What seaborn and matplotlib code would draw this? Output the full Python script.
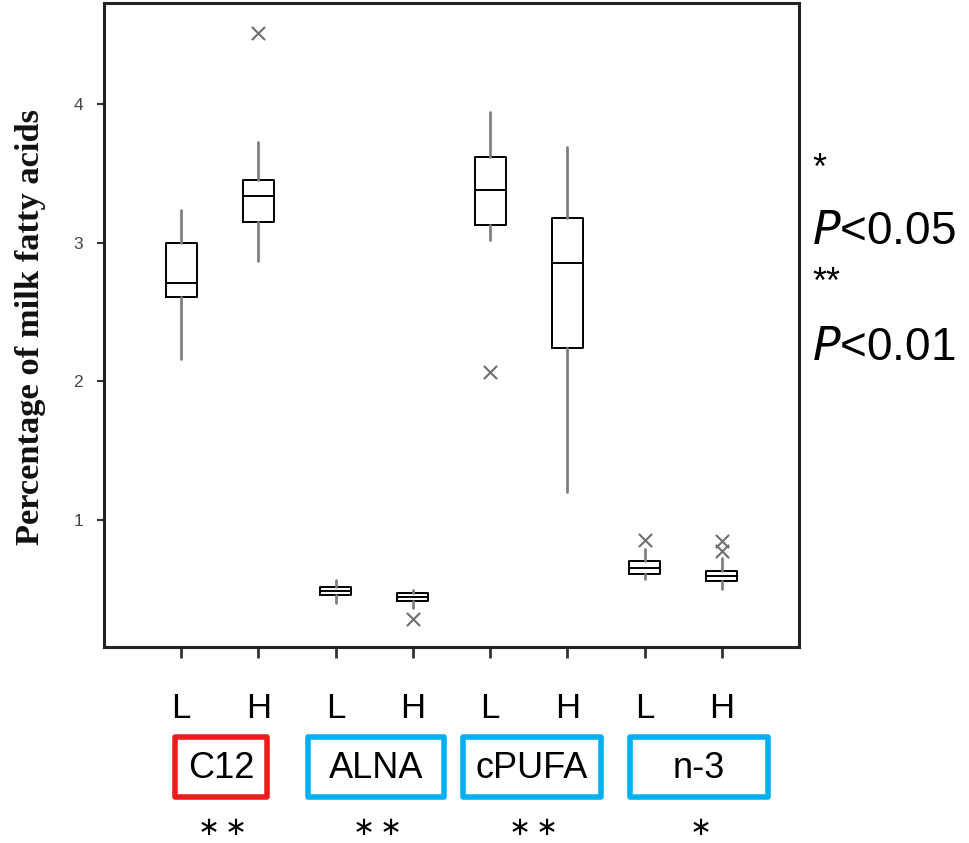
import matplotlib
matplotlib.use("Agg")
import matplotlib.pyplot as plt
import matplotlib.patches as mpatches
import seaborn as sns
import pandas as pd

# ---- data ----
levels = ["L", "H", "L", "H", "L", "H", "L", "H"]
groups = ["C12", "ALNA", "cPUFA", "n-3"]
group_stars = [r"$\ast\ast$", r"$\ast\ast$", r"$\ast\ast$", r"$\ast$"]
group_colors = ["#ee1c1c", "#00b0f0", "#00b0f0", "#00b0f0"]
whis_low = [2.16, 2.87, 0.40, 0.36, 3.02, 1.20, 0.576, 0.50]
q1 = [2.61, 3.15, 0.457, 0.414, 3.13, 2.24, 0.606, 0.56]
median = [2.71, 3.34, 0.487, 0.445, 3.38, 2.85, 0.651, 0.596]
q3 = [3.00, 3.45, 0.518, 0.469, 3.62, 3.18, 0.703, 0.63]
whis_high = [3.235, 3.73, 0.566, 0.494, 3.945, 3.69, 0.788, 0.727]
outlier_pos = [1, 3, 4, 6, 7, 7]
outlier_val = [4.517, 0.281, 2.064, 0.855, 0.847, 0.778]
yticks = [1, 2, 3, 4]

sns.set_theme(style="white")
plt.rcParams["font.family"] = ["Liberation Sans", "DejaVu Sans"]
plt.rcParams["mathtext.fontset"] = "dejavusans"

fig = plt.figure(figsize=(9.69, 8.43), dpi=100)
ax = fig.add_axes([104 / 969, 1 - 647 / 843, (799 - 104) / 969, (647 - 3) / 843])

stats = []
for i in range(len(levels)):
    stats.append(dict(whislo=whis_low[i], q1=q1[i], med=median[i], q3=q3[i],
                      whishi=whis_high[i], fliers=[], label=str(i)))
ax.bxp(stats, positions=list(range(len(levels))), widths=0.4, showfliers=False,
       showcaps=False, patch_artist=False,
       boxprops=dict(color="black", linewidth=1.4),
       medianprops=dict(color="black", linewidth=1.4),
       whiskerprops=dict(color="#808080", linewidth=2.0))

df_out = pd.DataFrame({"pos": outlier_pos, "val": outlier_val})
sns.scatterplot(data=df_out, x="pos", y="val", marker="x", s=90, color="#6e6e6e",
                linewidth=1.5, ax=ax, zorder=3, legend=False)

ax.set_xlim(-1.0, 8.0)
ax.set_ylim(0.082, 4.73)
ax.set_yticks(yticks)
ax.set_yticklabels([str(t) for t in yticks], fontsize=12.5, color="#444444")
ax.set_xticks(range(len(levels)))
ax.set_xticklabels([])
ax.set_xlabel("")
ax.set_ylabel("")
ax.tick_params(axis="y", direction="out", length=5, width=1.5, color="#333333", pad=10, left=True)
ax.tick_params(axis="x", direction="out", length=8, width=2, color="#333333", bottom=True)
for sp in ax.spines.values():
    sp.set_visible(True)
    sp.set_color("#222222")
    sp.set_linewidth(2.2)

fig.text(31 / 969, 1 - 327 / 843, "Percentage of milk fatty acids", rotation=90,
         ha="center", va="center", fontsize=24.8, fontweight="bold",
         family=["Liberation Serif", "DejaVu Serif"], color="#111111")

# L/H labels under ticks
for i, lab in enumerate(levels):
    xf = (104 + (i + 1.0) * (799 - 104) / 9.0) / 969
    fig.text(xf, 1 - 708 / 843, lab, ha="center", va="center", fontsize=25, color="black")

# group boxes
box_x = [(175, 267), (308, 444), (463, 601), (630, 768)]
for (x0, x1), g, c, st in zip(box_x, groups, group_colors, group_stars):
    rect = mpatches.Rectangle((x0 / 969, 1 - 797 / 843), (x1 - x0) / 969, 60 / 843,
                              transform=fig.transFigure, fill=False, edgecolor=c,
                              linewidth=4, joinstyle="round")
    fig.patches.append(rect)
    xc = (x0 + x1) / 2 / 969
    fig.text(xc, 1 - 768 / 843, g, ha="center", va="center", fontsize=26, color="black")
    fig.text(xc, 3 / 843, st, ha="center", va="bottom", fontsize=19, color="black")

# right legend text
fig.text(812 / 969, 1 - 169 / 843, "*", ha="left", va="center", fontsize=26, color="black")
fig.text(812 / 969, 1 - 232 / 843, r"$\mathit{P}$<0.05", ha="left", va="center", fontsize=33, color="black")
fig.text(812 / 969, 1 - 283 / 843, "**", ha="left", va="center", fontsize=26, color="black")
fig.text(812 / 969, 1 - 348 / 843, r"$\mathit{P}$<0.01", ha="left", va="center", fontsize=33, color="black")

fig.savefig("out.png", dpi=100, facecolor="white")
